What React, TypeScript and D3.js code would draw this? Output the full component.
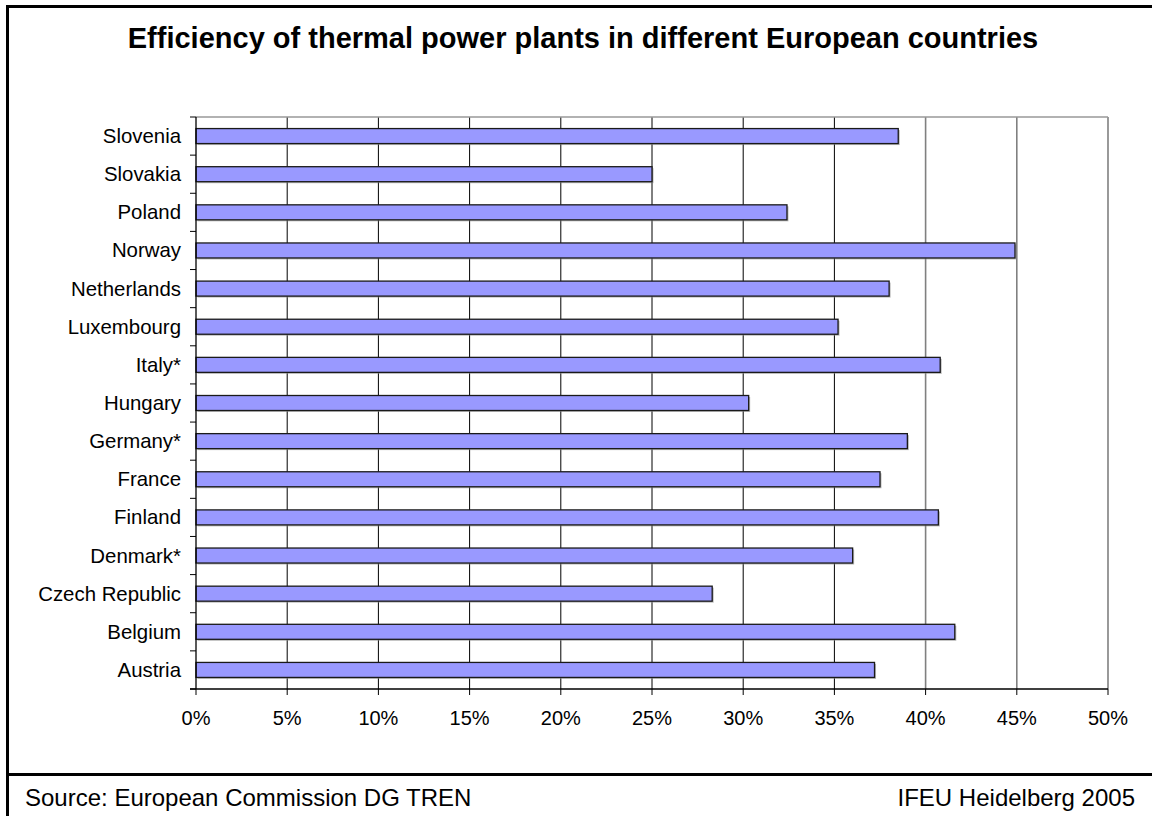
import React from "react";
import * as d3 from "d3";

const categories = [
  "Slovenia", "Slovakia", "Poland", "Norway", "Netherlands", "Luxembourg", "Italy*",
  "Hungary", "Germany*", "France", "Finland", "Denmark*", "Czech Republic", "Belgium", "Austria",
];
const efficiency = [38.5, 25.0, 32.4, 44.9, 38.0, 35.2, 40.8, 30.3, 39.0, 37.5, 40.7, 36.0, 28.3, 41.6, 37.2];
const xTicks = [0, 5, 10, 15, 20, 25, 30, 35, 40, 45, 50];
const title = "Efficiency of thermal power plants in different European countries";
const sourceText = "Source: European Commission DG TREN";
const creditText = "IFEU Heidelberg 2005";

const W = 1152;
const H = 816;
const plot = { left: 196, right: 1108, top: 117, bottom: 689 };
const font = "Arial, 'Liberation Sans', Helvetica, sans-serif";

export default function App() {
  const x = d3.scaleLinear().domain([0, 50]).range([plot.left, plot.right]);
  const y = d3.scaleBand<string>().domain(categories).range([plot.top, plot.bottom]).paddingInner(0).paddingOuter(0);
  const bw = y.bandwidth();
  const barH = 15;

  return (
    <svg width={W} height={H} style={{ position: "absolute", left: 0, top: 0, background: "#fff" }} fontFamily={font}>
      <rect x={0} y={0} width={W} height={H} fill="#fff" />
      {/* outer frame */}
      <rect x={7.5} y={6.5} width={W + 10} height={H + 10} fill="none" stroke="#000" strokeWidth={3} />
      <line x1={7.5} x2={W} y1={774.5} y2={774.5} stroke="#000" strokeWidth={3} />

      <text x={583} y={48} textAnchor="middle" fontSize={29} fontWeight="bold" fill="#000">{title}</text>

      {/* gridlines */}
      {xTicks.slice(1).map((t) => (
        <line key={"g" + t} x1={x(t)} x2={x(t)} y1={plot.top} y2={plot.bottom}
          stroke={t >= 40 ? "#808080" : "#000"} strokeWidth={t >= 40 ? 1.6 : 1} />
      ))}
      <line x1={plot.left} x2={plot.right} y1={plot.top} y2={plot.top} stroke="#999" strokeWidth={1.5} />

      {/* bars */}
      {categories.map((c, i) => {
        const yy = (y(c) as number) + (bw - barH) / 2;
        const w = x(efficiency[i]) - x(0);
        return (
          <g key={c}>
            <rect x={x(0) + 1.5} y={yy + 1.5} width={w} height={barH} fill="#8a8a8a" opacity={0.6} />
            <rect x={x(0)} y={yy} width={w} height={barH} fill="#9999FF" stroke="#1a1a1a" strokeWidth={1.3} />
          </g>
        );
      })}

      {/* y axis */}
      <line x1={plot.left} x2={plot.left} y1={plot.top} y2={plot.bottom} stroke="#000" strokeWidth={1.3} />
      {d3.range(categories.length + 1).map((i) => {
        const yy = plot.top + i * bw;
        return <line key={"yt" + i} x1={plot.left - 6} x2={plot.left} y1={yy} y2={yy} stroke="#000" strokeWidth={1} />;
      })}
      {categories.map((c) => (
        <text key={"l" + c} x={181} y={(y(c) as number) + bw / 2 + 7} textAnchor="end" fontSize={20.4} fill="#000">{c}</text>
      ))}

      {/* x axis */}
      <line x1={plot.left - 6} x2={plot.right} y1={plot.bottom} y2={plot.bottom} stroke="#000" strokeWidth={1.3} />
      {xTicks.map((t) => (
        <g key={"xt" + t}>
          <line x1={x(t)} x2={x(t)} y1={plot.bottom} y2={plot.bottom + 6} stroke="#000" strokeWidth={1} />
          <text x={x(t)} y={725} textAnchor="middle" fontSize={20} fill="#000">{t + "%"}</text>
        </g>
      ))}

      {/* footer */}
      <text x={25} y={806} fontSize={24} fill="#000">{sourceText}</text>
      <text x={1135} y={806} textAnchor="end" fontSize={24} fill="#000">{creditText}</text>
    </svg>
  );
}
